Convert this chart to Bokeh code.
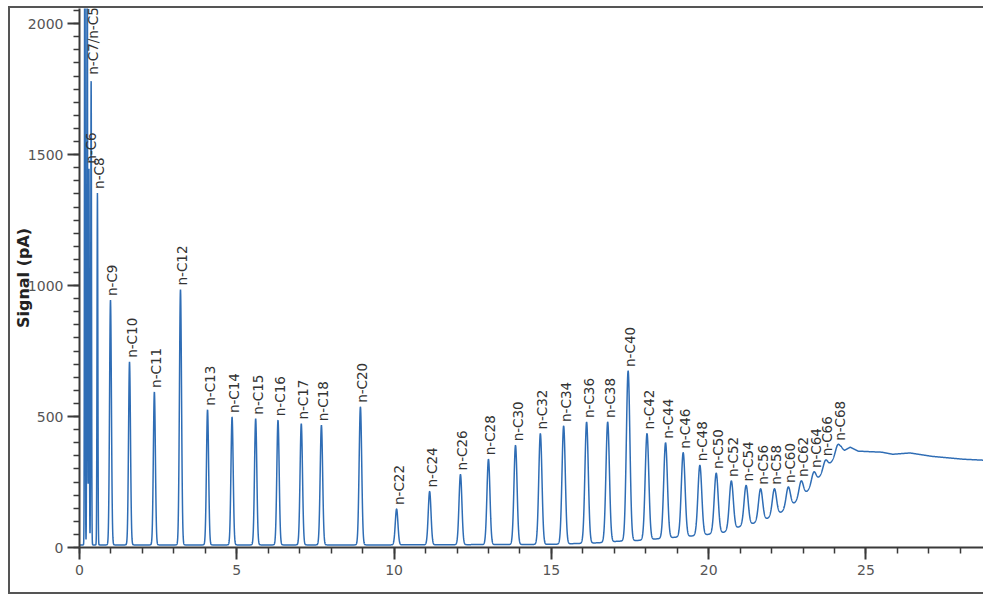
import numpy as np
from bokeh.plotting import figure
from bokeh.models import ColumnDataSource, SingleIntervalTicker, Range1d
from bokeh.core.properties import value
from bokeh.embed import file_html
from bokeh.resources import INLINE

# Peak table: retention time (min), apex signal (pA), label (None = unlabelled)
peak_rt = [0.17, 0.245, 0.30, 0.37, 0.57, 0.985, 1.59, 2.38, 3.21, 4.07,
           4.85, 5.60, 6.31, 7.05, 7.69, 8.93, 10.08, 11.13, 12.11, 13.00,
           13.86, 14.65, 15.39, 16.12, 16.79, 17.44, 18.04, 18.63, 19.19, 19.72,
           20.24, 20.72, 21.19, 21.65, 22.09, 22.53, 22.94, 23.34, 23.71, 24.10]
peak_apex = [2900, 2700, 1450, 1790, 1354, 945, 709, 594, 985, 526,
             498, 492, 486, 473, 467, 537, 147, 214, 279, 337,
             390, 435, 464, 479, 479, 674, 435, 400, 362, 314,
             284, 254, 237, 224, 224, 231, 254, 288, 333, 392]
peak_name = [None, None, "n-C6", "n-C7/n-C5", "n-C8", "n-C9", "n-C10", "n-C11", "n-C12", "n-C13",
             "n-C14", "n-C15", "n-C16", "n-C17", "n-C18", "n-C20", "n-C22", "n-C24", "n-C26", "n-C28",
             "n-C30", "n-C32", "n-C34", "n-C36", "n-C38", "n-C40", "n-C42", "n-C44", "n-C46", "n-C48",
             "n-C50", "n-C52", "n-C54", "n-C56", "n-C58", "n-C60", "n-C62", "n-C64", "n-C66", "n-C68"]

# Baseline signal between peaks (column bleed hump at high temperature)
base_rt = [0.0, 10.0, 15.0, 16.5, 17.12, 17.75, 18.35, 18.92, 19.46, 19.98,
           20.48, 20.95, 21.42, 21.87, 22.31, 22.73, 23.14, 23.52, 23.90, 24.22,
           24.32, 24.50, 24.75, 25.10, 25.50, 25.85, 26.40, 27.10, 28.10, 28.80]
base_pa = [10, 10, 12, 18, 24, 27, 33, 39, 44, 50,
           58, 78, 92, 111, 135, 170, 215, 269, 326, 378,
           371, 383, 368, 366, 364, 356, 361, 348, 337, 333]

t = np.linspace(0.0, 28.8, 9000)
baseline = np.interp(t, base_rt, base_pa)
rt = np.array(peak_rt)
heights = np.array(peak_apex) - np.interp(rt, base_rt, base_pa)
widths = np.interp(rt, [0.0, 0.7, 1.0, 10.0, 17.0, 24.0], [0.010, 0.014, 0.030, 0.042, 0.055, 0.070])
signal = baseline + (heights[:, None] * np.exp(-0.5 * ((t[None, :] - rt[:, None]) / widths[:, None]) ** 2)).sum(axis=0)

trace = ColumnDataSource(dict(t=t, s=signal))
lab_idx = [i for i, n in enumerate(peak_name) if n]
labels = ColumnDataSource(dict(
    x=[peak_rt[i] for i in lab_idx],
    y=[peak_apex[i] for i in lab_idx],
    name=[peak_name[i] for i in lab_idx],
))

p = figure(width=975, height=588, x_range=Range1d(0, 28.8), y_range=Range1d(0, 2058),
           output_backend="svg", toolbar_location=None,
           min_border_left=69, min_border_right=0, min_border_top=0, min_border_bottom=49)
p.styles = {"margin-left": "8px", "margin-top": "6px",
            "border-left": "2px solid #555555", "border-top": "2px solid #555555",
            "border-bottom": "2px solid #555555"}
p.outline_line_color = None
p.grid.visible = False
p.background_fill_color = "white"
p.border_fill_color = "white"

p.line("t", "s", source=trace, line_color="#2f6db5", line_width=1.5)
p.text("x", "y", text="name", source=labels, angle=np.pi / 2,
       text_align="left", text_baseline="middle", x_offset=2, y_offset=-4,
       text_font=value("DejaVu Sans"), text_font_size="13.5px", text_color="#333333")

for ax in (p.xaxis[0], p.yaxis[0]):
    ax.axis_line_color = "#3a3a3a"
    ax.axis_line_width = 2
    ax.major_tick_line_color = "#3a3a3a"
    ax.major_tick_line_width = 2
    ax.minor_tick_line_color = "#3a3a3a"
    ax.minor_tick_line_width = 1.5
    ax.major_tick_in = 0
    ax.major_tick_out = 12
    ax.minor_tick_in = 0
    ax.minor_tick_out = 6
    ax.major_label_text_font = "DejaVu Sans"
    ax.major_label_text_font_size = "14px"
    ax.major_label_text_color = "#555555"
    ax.major_label_standoff = 5

p.xaxis[0].ticker = SingleIntervalTicker(interval=5, num_minor_ticks=5)
p.yaxis[0].ticker = SingleIntervalTicker(interval=500, num_minor_ticks=10)
p.yaxis[0].major_label_standoff = 4
p.yaxis[0].axis_label = "Signal (pA)"
p.yaxis[0].axis_label_text_font = "DejaVu Sans"
p.yaxis[0].axis_label_text_font_style = "bold"
p.yaxis[0].axis_label_text_font_size = "16px"
p.yaxis[0].axis_label_text_color = "#222222"
p.yaxis[0].axis_label_standoff = -8

open("out.html", "w").write(file_html(p, INLINE))
